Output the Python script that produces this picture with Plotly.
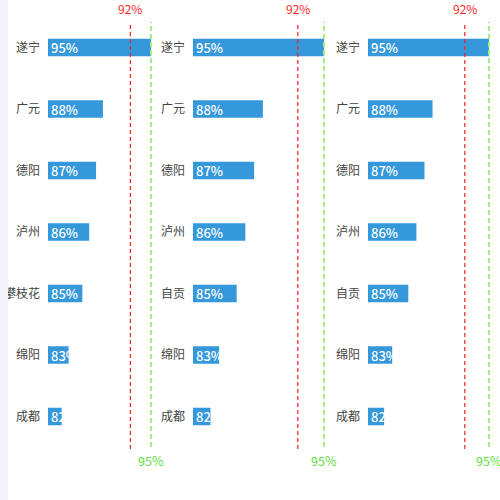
import plotly.graph_objects as go

# data
cities_a = ['遂宁', '广元', '德阳', '泸州', '攀枝花', '绵阳', '成都']
cities_b = ['遂宁', '广元', '德阳', '泸州', '自贡', '绵阳', '成都']
rates = [95, 88, 87, 86, 85, 83, 82]
panels = [cities_a, cities_b, cities_b]
axis_min = 80
axis_max = 95
warn_line = 92
target_line = 95

W, H = 500, 500
# pixel spans of the three grids (left, right) for the 80..95 range
x_spans = [(48, 151), (193, 324), (368, 489)]
y_top, y_bot = 16.75, 447.25
pad_px = 3  # extra room past 95 so the target line is not clipped

FONT = 'Noto Sans CJK SC'
BAR = '#3498db'
RED = '#ff1f1f'
GREEN = '#a0f086'
GREEN_TXT = '#5fe040'

fig = go.Figure()
shapes = []
annotations = []

for i, cats in enumerate(panels):
    n = '' if i == 0 else str(i + 1)
    fig.add_trace(go.Bar(
        x=[v - axis_min for v in rates],
        base=axis_min,
        y=cats,
        orientation='h',
        width=0.285,
        marker=dict(color=BAR, line=dict(width=0)),
        text=[f'{v}%' for v in rates],
        textposition='inside',
        insidetextanchor='start',
        textangle=0,
        constraintext='none',
        textfont=dict(color='white', size=13, family=FONT, weight=500),
        xaxis='x' + n,
        yaxis='y' + n,
        showlegend=False,
        hoverinfo='skip',
    ))

    x0, x1 = x_spans[i]
    ppu = (x1 - x0) / (axis_max - axis_min)
    fig.update_layout(**{
        'xaxis' + n: dict(
            domain=[x0 / W, (x1 + pad_px) / W],
            range=[axis_min, axis_max + pad_px / ppu],
            visible=False,
            anchor='y' + n,
            fixedrange=True,
        ),
        'yaxis' + n: dict(
            domain=[1 - y_bot / H, 1 - y_top / H],
            type='category',
            categoryorder='array',
            categoryarray=cats,
            range=[6.5, -0.5],
            anchor='x' + n,
            showgrid=False,
            zeroline=False,
            showline=False,
            ticks='',
            ticklabelstandoff=7,
            tickfont=dict(size=12, color='#444444', family=FONT),
            fixedrange=True,
        ),
    })

    xr = 'x' + n
    shapes.append(dict(type='line', xref=xr, yref='paper',
                       x0=warn_line, x1=warn_line,
                       y0=1 - 449 / H, y1=1 - 22 / H,
                       line=dict(color=RED, width=1.2, dash='4px,3px')))
    shapes.append(dict(type='line', xref=xr, yref='paper',
                       x0=target_line, x1=target_line,
                       y0=1 - 447 / H, y1=1 - 22 / H,
                       line=dict(color=GREEN, width=2, dash='5px,3px')))
    annotations.append(dict(x=warn_line, xref=xr, y=1 - 8.5 / H, yref='paper',
                            text=f'{warn_line}%', showarrow=False,
                            xanchor='center', yanchor='middle',
                            font=dict(color=RED, size=12, family=FONT)))
    annotations.append(dict(x=target_line, xref=xr, y=1 - 460 / H, yref='paper',
                            text=f'{target_line}%', showarrow=False,
                            xanchor='center', yanchor='middle',
                            font=dict(color=GREEN_TXT, size=12.5, family=FONT)))

# grey page strip on the left, covers the clipped label like the card edge
shapes.append(dict(type='rect', xref='paper', yref='paper',
                   x0=0, x1=8 / W, y0=0, y1=1,
                   fillcolor='#f3f4f8', line=dict(width=0), layer='above'))

fig.update_layout(
    width=W, height=H,
    margin=dict(l=0, r=0, t=0, b=0),
    paper_bgcolor='white',
    plot_bgcolor='rgba(0,0,0,0)',
    uniformtext=dict(minsize=12, mode='show'),
    shapes=shapes,
    annotations=annotations,
    font=dict(family=FONT),
)

# page body has a default 8px margin; drop it so the figure sits at 0,0
fig.write_html('out.html', config={'displayModeBar': False},
               post_script="document.body.style.margin='0';")
